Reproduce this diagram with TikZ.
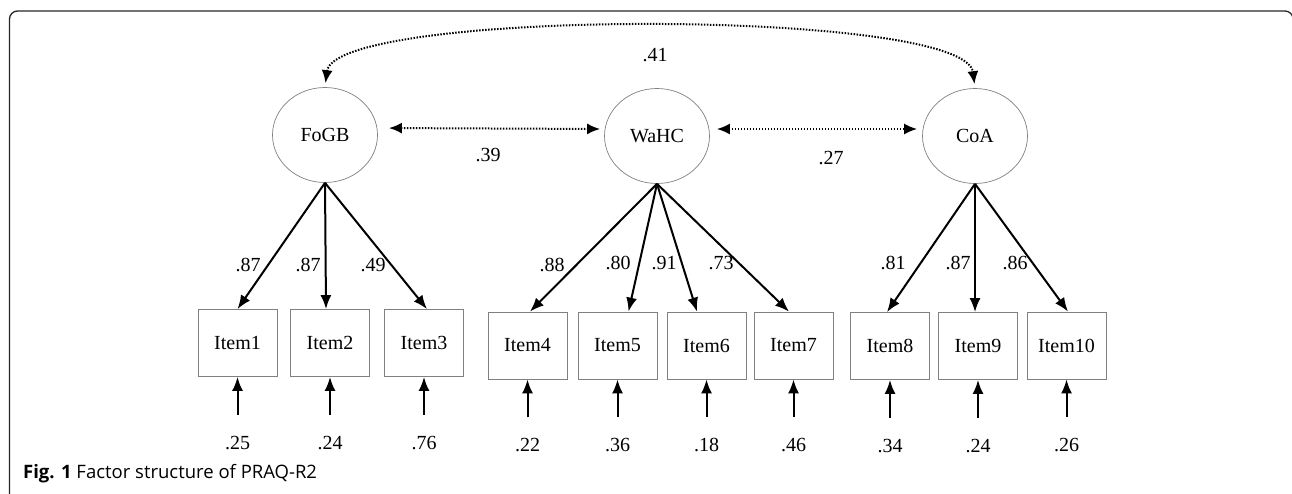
\documentclass[tikz,border=0pt]{standalone}
\usepackage{fontspec}
\setmainfont{Liberation Serif}
\newfontfamily\capfont{Open Sans}
\usetikzlibrary{shapes.geometric,arrows.meta}
\begin{document}
\begin{tikzpicture}[x=1pt,y=-1pt,
  latent/.style={ellipse,draw=black!50,line width=0.7pt,minimum width=105pt,minimum height=95pt,inner sep=0pt,font=\fontsize{20}{22}\selectfont},
  itembox/.style={rectangle,draw=black!50,line width=0.8pt,minimum width=79pt,minimum height=67pt,inner sep=0pt,font=\fontsize{20}{22}\selectfont},
  num/.style={inner sep=0pt,font=\fontsize{20}{22}\selectfont},
  load/.style={line width=2pt,-{Latex[length=14pt,width=11pt]}},
  cov/.style={line width=2pt,dash pattern=on 1.5pt off 1.5pt,{Latex[length=13pt,width=11pt]}-{Latex[length=13pt,width=11pt]}},
]
\useasboundingbox (0,0) rectangle (1292,493);
\draw[line width=1.3pt,black!85,rounded corners=8pt] (9.5,520) -- (9.5,11) -- (1293,11) -- (1293,520);

% latent variables
\node[latent] (F) at (325,135) {FoGB};
\node[latent] (W) at (657,136) {WaHC};
\node[latent] (C) at (975,136) {CoA};

% items
\node[itembox] (I1) at (237.5,343) {Item1};
\node[itembox] (I2) at (330,343) {Item2};
\node[itembox] (I3) at (424,343) {Item3};
\node[itembox] (I4) at (527.5,345.5) {Item4};
\node[itembox] (I5) at (617.5,345.5) {Item5};
\node[itembox] (I6) at (706.5,345.5) {Item6};
\node[itembox] (I7) at (793.5,345.5) {Item7};
\node[itembox] (I8) at (890,346) {Item8};
\node[itembox] (I9) at (978,346) {Item9};
\node[itembox] (I10) at (1066.5,345.5) {Item10};

% loadings
\draw[load] (F.south) -- (I1.north);
\draw[load] (F.south) -- ([xshift=-4pt]I2.north);
\draw[load] (F.south) -- ([xshift=3pt]I3.north);
\draw[load] (W.south) -- ([xshift=2.5pt]I4.north);
\draw[load] (W.south) -- ([xshift=11pt]I5.north);
\draw[load] (W.south) -- ([xshift=-9.5pt]I6.north);
\draw[load] (W.south) -- ([xshift=-4.5pt]I7.north);
\draw[load] (C.south) -- ([xshift=-3pt]I8.north);
\draw[load] (C.south) -- ([xshift=-3pt]I9.north);
\draw[load] (C.south) -- ([xshift=1.5pt]I10.north);

\node[num] (l1) at (248,265) {.87};
\node[num] (l2) at (308,265) {.87};
\node[num] (l3) at (373,265) {.49};
\node[num] (l4) at (552,265) {.88};
\node[num] (l5) at (618,263) {.80};
\node[num] (l6) at (664,263) {.91};
\node[num] (l7) at (721,263) {.73};
\node[num] (l8) at (893,263) {.81};
\node[num] (l9) at (958,263) {.87};
\node[num] (l10) at (1015,263) {.86};

% errors
\foreach \i/\v in {1/.25,2/.24,3/.76,4/.22,5/.36,6/.18,7/.46,8/.34,9/.24,10/.26}{
  \coordinate (e\i) at ([yshift=-38pt]I\i.south);
  \draw[load] (e\i) -- (I\i.south);
  \node[num] (r\i) at ([yshift=-66pt]I\i.south) {\v};
}

% covariances
\draw[cov,shorten <=11pt,shorten >=4pt] ([yshift=7pt]F.east) -- ([yshift=7pt]W.west);
\draw[cov,shorten <=7pt,shorten >=5pt] ([yshift=7pt]W.east) -- ([yshift=7pt]C.west);
\draw[cov,shorten <=4pt,shorten >=4pt] (F.north) .. controls (335,8) and (965,8) .. (C.north);
\node[num] (c1) at (488,155) {.39};
\node[num] (c2) at (831,158) {.27};
\node[num] (c3) at (655,55) {.41};

% caption
\node[anchor=base west,inner sep=0pt,font=\capfont\fontsize{18.5}{20}\selectfont] (cap) at (23,478) {\textbf{Fig. 1} Factor structure of PRAQ-R2};
\end{tikzpicture}
\end{document}
